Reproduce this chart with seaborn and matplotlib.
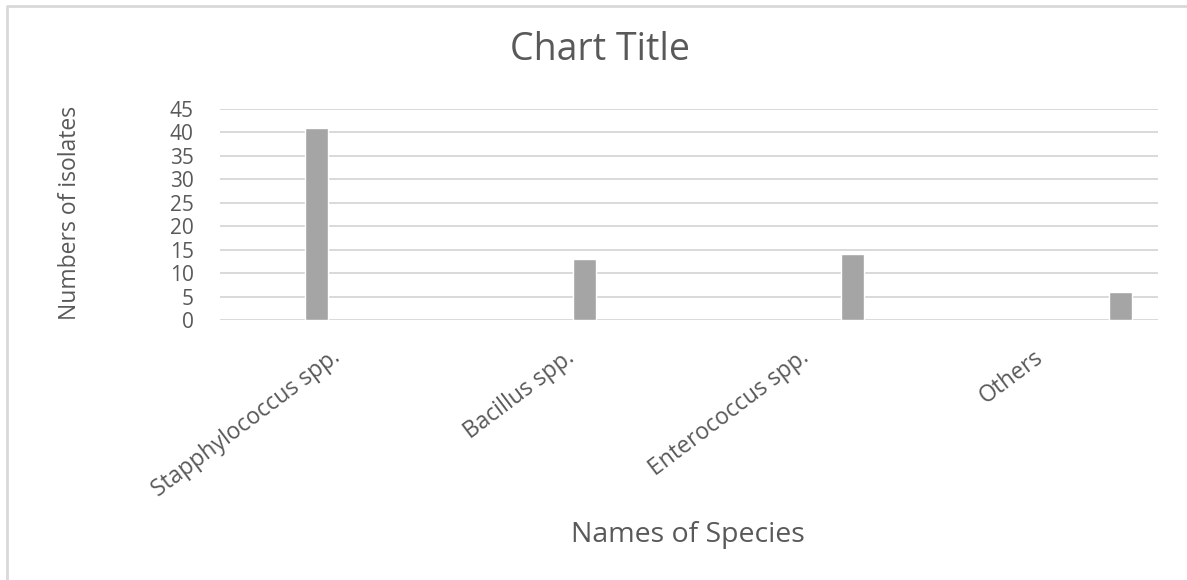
import numpy as np
import pandas as pd
import matplotlib
matplotlib.use("Agg")
import matplotlib.pyplot as plt
from matplotlib.lines import Line2D
import seaborn as sns

# Isolate counts per species group
species = ["Stapphylococcus spp.", "Bacillus spp.", "Enterococcus spp.", "Others"]
isolates = [41, 13, 14, 6]
y_ticks = [0, 5, 10, 15, 20, 25, 30, 35, 40, 45]

df = pd.DataFrame({"species": species, "isolates": isolates})

sns.set_theme(style="white")
plt.rcParams["font.family"] = ["Open Sans", "DejaVu Sans"]

TEXT = "#595959"
GRID = "#d9d9d9"
BAR = "#a5a5a5"

fig = plt.figure(figsize=(11.87, 5.80), dpi=100)
ax = fig.add_axes([220 / 1187, 1 - 320 / 580, (1158 - 220) / 1187, (320 - 109) / 580])

# one series per species, clustered side by side
sns.barplot(
    data=df, x="species", y="isolates", hue="species", hue_order=species,
    order=species, dodge=True, width=0.567, gap=0.31,
    palette=[BAR] * len(species), saturation=1, legend=False, ax=ax,
)

shift = 0.126
ax.set_xlim(-0.5 - shift, len(species) - 0.5 - shift)
ax.set_ylim(0, 45)
ax.set_yticks(y_ticks)
ax.set_yticklabels([str(v) for v in y_ticks], fontsize=15, color=TEXT)
ax.set_xticks(np.arange(len(species)) - shift)
ax.set_xticklabels(species, rotation=37, ha="right", va="center",
                   rotation_mode="anchor", fontsize=16.5, color=TEXT)
ax.tick_params(axis="x", length=0, pad=25)
ax.tick_params(axis="y", length=0, pad=19)

ax.set_axisbelow(True)
ax.yaxis.grid(True, color=GRID, linewidth=1.4)
ax.xaxis.grid(False)
for s in ax.spines.values():
    s.set_visible(False)

ax.set_xlabel("")
ax.set_ylabel("")
fig.text(600 / 1187, 1 - 50 / 580, "Chart Title", ha="center", va="center",
         fontsize=27, color=TEXT)
fig.text(70 / 1187, 1 - 213 / 580, "Numbers of isolates", ha="center", va="center",
         rotation=90, fontsize=16.5, color=TEXT)
fig.text(688 / 1187, 1 - 535 / 580, "Names of Species", ha="center", va="center",
         fontsize=20.5, color=TEXT)

# chart-area frame along the top and left edges
fig.add_artist(Line2D([7 / 1187, 7 / 1187, 1.0], [0.0, 1 - 6 / 580, 1 - 6 / 580],
                      transform=fig.transFigure, color=GRID, linewidth=2))

fig.savefig("out.png", dpi=100)
